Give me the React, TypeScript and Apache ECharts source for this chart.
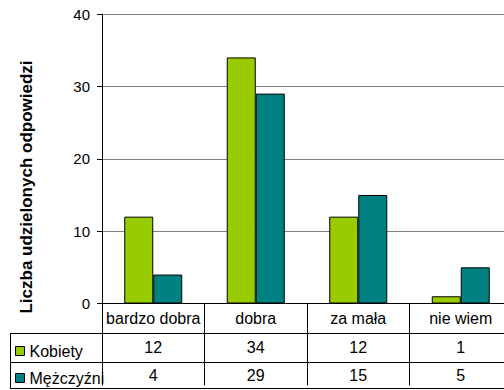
import React, { useEffect, useRef } from "react";
import * as echarts from "echarts";

const categories = ["bardzo dobra", "dobra", "za mała", "nie wiem"];
const kobiety = [12, 34, 12, 1];
const mezczyzni = [4, 29, 15, 5];
const seriesNames = ["Kobiety", "Mężczyźni"];
const yTitle = "Liczba udzielonych odpowiedzi";
const yMin = 0;
const yMax = 40;
const yStep = 10;

const FONT = "'Liberation Sans', Arial, sans-serif";

export default function App() {
  const ref = useRef<HTMLDivElement>(null);
  useEffect(() => {
    if (!ref.current) return;
    const chart = echarts.init(ref.current, null, { renderer: "svg" });
    const lineStyle = { stroke: "#000", lineWidth: 1 };
    chart.setOption({
      animation: false,
      backgroundColor: "#fff",
      textStyle: { fontFamily: FONT, color: "#000" },
      grid: { left: 102, right: 0, top: 14, bottom: 84, containLabel: false },
      xAxis: {
        type: "category",
        data: categories,
        boundaryGap: true,
        axisLine: { show: true, lineStyle: { color: "#000", width: 1 } },
        axisTick: { show: true, length: 82, lineStyle: { color: "#000", width: 1 } },
        axisLabel: {
          interval: 0,
          margin: 1,
          fontSize: 16,
          lineHeight: 28.5,
          color: "#000",
          fontFamily: FONT,
          formatter: (v: string, i: number) => `${v}\n${kobiety[i]}\n${mezczyzni[i]}`,
        },
      },
      yAxis: {
        type: "value",
        min: yMin,
        max: yMax,
        interval: yStep,
        axisLine: { show: true, lineStyle: { color: "#000", width: 1 } },
        axisTick: { show: true, length: 5, lineStyle: { color: "#000", width: 1 } },
        axisLabel: { margin: 12, fontSize: 15, color: "#000", fontFamily: FONT },
        splitLine: { show: true, lineStyle: { color: "#808080", width: 1 } },
      },
      legend: [
        {
          data: [seriesNames[0]],
          left: 15,
          top: 343,
          padding: 0,
          icon: "rect",
          itemWidth: 9,
          itemHeight: 9,
          itemStyle: { borderColor: "#000", borderWidth: 1 },
          textStyle: { fontSize: 16, lineHeight: 16, color: "#000", fontFamily: FONT },
        },
        {
          data: [seriesNames[1]],
          left: 15,
          top: 370,
          padding: 0,
          icon: "rect",
          itemWidth: 9,
          itemHeight: 9,
          itemStyle: { borderColor: "#000", borderWidth: 1 },
          textStyle: { fontSize: 16, lineHeight: 16, color: "#000", fontFamily: FONT },
        },
      ],
      series: [
        {
          name: seriesNames[0],
          type: "bar",
          data: kobiety,
          barWidth: 29,
          barGap: "0%",
          itemStyle: { color: "#99CC00", borderColor: "#000", borderWidth: 1 },
        },
        {
          name: seriesNames[1],
          type: "bar",
          data: mezczyzni,
          barWidth: 29,
          barGap: "0%",
          itemStyle: { color: "#008080", borderColor: "#000", borderWidth: 1 },
        },
      ],
      graphic: [
        {
          type: "text",
          x: 26,
          y: 187,
          rotation: Math.PI / 2,
          style: {
            text: yTitle,
            font: `bold 17px ${FONT}`,
            fill: "#000",
            textAlign: "center",
            textVerticalAlign: "middle",
          },
        },
        { type: "line", shape: { x1: 10, y1: 333.5, x2: 512, y2: 333.5 }, style: lineStyle },
        { type: "line", shape: { x1: 10, y1: 362.5, x2: 512, y2: 362.5 }, style: lineStyle },
        { type: "line", shape: { x1: 10, y1: 388.5, x2: 512, y2: 388.5 }, style: lineStyle },
        { type: "line", shape: { x1: 10.5, y1: 333, x2: 10.5, y2: 389 }, style: lineStyle },
      ],
    });
    return () => chart.dispose();
  }, []);
  return (
    <div style={{ position: "fixed", left: 0, top: 0, width: 504, height: 390, overflow: "hidden" }}>
      <div ref={ref} style={{ width: 512, height: 390 }} />
    </div>
  );
}
